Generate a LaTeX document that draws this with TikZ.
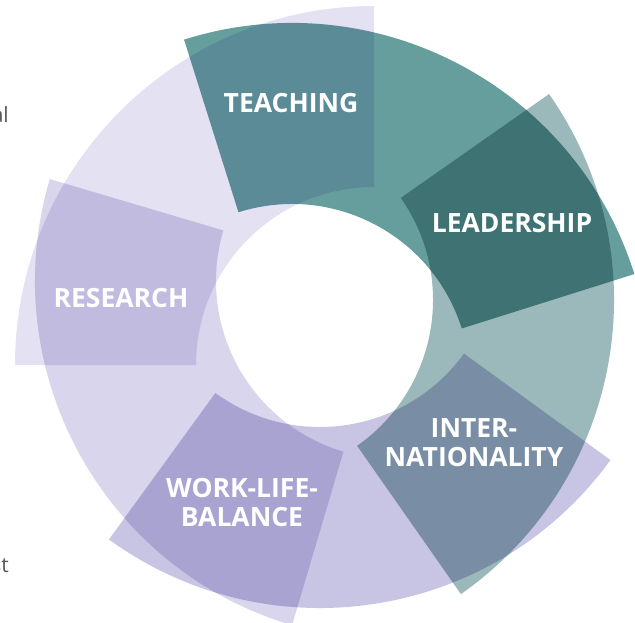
\documentclass[tikz,border=0pt]{standalone}
\usepackage{fontspec}
\setmainfont{Open Sans}

\definecolor{lavlight}{HTML}{E4E1F3}
\definecolor{lavmid}{HTML}{D8D5EC}
\definecolor{lavdark}{HTML}{C8C4E3}
\definecolor{tealdark}{HTML}{669E9E}
\definecolor{teallight}{HTML}{9BB9BA}
\definecolor{fragtext}{HTML}{555555}

\tikzset{
  segment/.style={blend mode=multiply},
  topic/.style={text=white, inner sep=0pt, align=center,
    font=\bfseries\fontsize{26.5}{29}\selectfont},
  fragment/.style={text=fragtext, inner sep=0pt,
    font=\fontsize{21}{25}\selectfont}
}

\begin{document}
\begin{tikzpicture}[x=1pt,y=-1pt]
      \useasboundingbox (0,0) rectangle (635,623) ;
      % five quarter rings, each one turned about its own centre
      \foreach \cx/\cy/\a/\col in {374/365/180/lavlight, 292/382/252.5/tealdark,
                                  255/300/-35/teallight, 320/249/36/lavdark,
                                  394/281/106.5/lavmid}
        \fill[segment,\col] (\cx,\cy) ++(\a:359) arc[start angle=\a, end angle=\a+90, radius=359] %
          -- ([shift={(\a+90:178)}]\cx,\cy) arc[start angle=\a+90, end angle=\a, radius=178] -- cycle ;
      % labels where two rings overlap
      \node[topic] (teach) at (291,103.5) {TEACHING} ;
      \node[topic] (lead) at (512,223.5) {LEADERSHIP} ;
      \node[topic] (inter) at (474,443) {INTER-\\NATIONALITY} ;
      \node[topic] (wlb) at (242,503) {WORK-LIFE-\\BALANCE} ;
      \node[topic] (res) at (121,298.5) {RESEARCH} ;
      % cut-off words of the running text
      \node[fragment,anchor=base east] (fragal) at (9,123) {al} ;
      \node[fragment,anchor=base east] (fragst) at (9,572) {st} ;
    \end{tikzpicture}
\end{document}
